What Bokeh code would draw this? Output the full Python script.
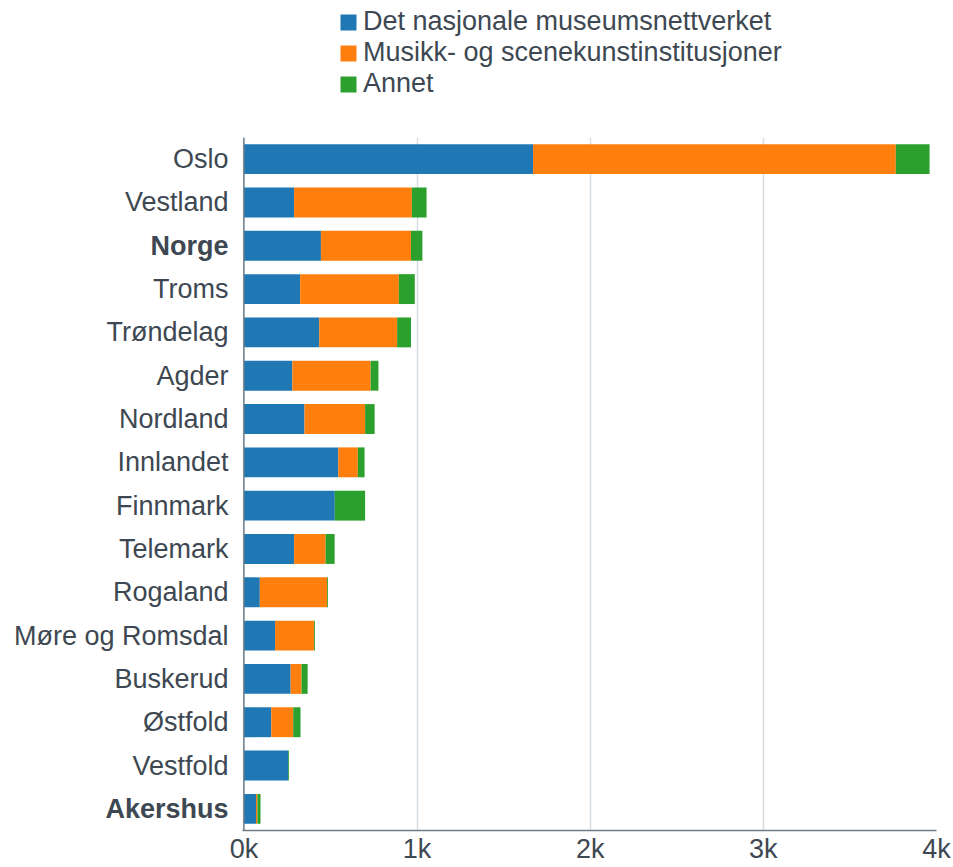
from bokeh.plotting import figure
from bokeh.layouts import row, column
from bokeh.core.properties import value
from bokeh.models import (ColumnDataSource, FactorRange, Range1d, FixedTicker, Legend,
                          LegendItem, Span)
from bokeh.embed import file_html
from bokeh.resources import INLINE

categories = ["Oslo", "Vestland", "Norge", "Troms", "Trøndelag", "Agder", "Nordland",
              "Innlandet", "Finnmark", "Telemark", "Rogaland", "Møre og Romsdal",
              "Buskerud", "Østfold", "Vestfold", "Akershus"]
museum = [1670, 290, 445, 325, 435, 280, 350, 545, 525, 290, 92, 180, 270, 158, 255, 70]
musikk = [2095, 680, 520, 570, 450, 452, 350, 113, 0, 182, 388, 225, 63, 127, 0, 8]
annet = [195, 85, 66, 92, 80, 45, 55, 39, 175, 52, 5, 5, 35, 42, 5, 18]
bold_categories = ["Norge", "Akershus"]

series_names = ["Det nasjonale museumsnettverket", "Musikk- og scenekunstinstitusjoner", "Annet"]
series_keys = ["museum", "musikk", "annet"]
colors = ["#1f77b4", "#ff7f0e", "#2ca02c"]

xticks = [0, 1000, 2000, 3000, 4000]
xtick_labels = ["0k", "1k", "2k", "3k", "4k"]

TEXT = "#3d4852"
AXIS = "#6f7e89"
FONT = "Liberation Sans"
FS = "27px"
W = 953
LEG_H = 122
H = 867 - LEG_H
TOP = 15
BOTTOM = 37
LABEL_W = 229

src = ColumnDataSource(dict(cat=categories, museum=museum, musikk=musikk, annet=annet))
y_range = FactorRange(factors=list(reversed(categories)), range_padding=0)

# ---- legend strip (top) ----
lf = figure(width=W, height=LEG_H, output_backend="svg", toolbar_location=None,
            x_range=Range1d(0, 1), y_range=Range1d(0, 1),
            x_axis_location=None, y_axis_location=None, min_border=0)
lf.outline_line_color = None
lf.grid.grid_line_color = None
nan = float("nan")
leg_renderers = [lf.hbar(y=[nan], right=[nan], height=1, color=c, line_color=None)
                 for c in colors]
legend = Legend(items=[LegendItem(label=n, renderers=[r], index=0)
                       for n, r in zip(series_names, leg_renderers)],
                location=(338, 23), orientation="vertical", glyph_width=20, glyph_height=20,
                label_text_font=FONT, label_text_font_size=FS, label_text_color=TEXT,
                label_standoff=5, spacing=0, padding=0, margin=0, border_line_color=None,
                background_fill_alpha=0, label_height=30)
lf.add_layout(legend, "center")

# ---- label column (left) ----
fl = figure(width=LABEL_W, height=H, output_backend="svg", toolbar_location=None,
            y_range=y_range, x_range=Range1d(0, 1), y_axis_location=None,
            x_axis_location=None, min_border_left=0, min_border_right=0,
            min_border_top=TOP, min_border_bottom=BOTTOM)
fl.outline_line_color = None
fl.grid.grid_line_color = None
lab_src = ColumnDataSource(dict(
    y=categories, x=[1] * len(categories), text=categories,
    style=["bold" if c in bold_categories else "normal" for c in categories]))
fl.text(x="x", y="y", text="text", source=lab_src, x_offset=-1,
        text_align="right", text_baseline="middle", text_font=value(FONT),
        text_font_size=value(FS), text_color=TEXT, text_font_style="style")

# ---- main chart ----
p = figure(width=W - LABEL_W, height=H, output_backend="svg", toolbar_location=None,
           y_range=y_range, x_range=Range1d(-8, 4000), y_axis_location=None,
           min_border_left=13, min_border_right=17, min_border_top=TOP,
           min_border_bottom=BOTTOM)
p.outline_line_color = None

p.hbar_stack(series_keys, y="cat", height=0.69, color=colors, source=src, line_color=None)

ax = p.xaxis[0]
ax.ticker = FixedTicker(ticks=xticks)
ax.major_label_overrides = {t: l for t, l in zip(xticks, xtick_labels)}
ax.major_label_text_font = FONT
ax.major_label_text_font_size = FS
ax.major_label_text_color = TEXT
ax.major_tick_line_color = None
ax.minor_tick_line_color = None
ax.major_label_standoff = -3
ax.axis_line_color = AXIS
ax.axis_line_width = 1.5

p.add_layout(Span(location=0, dimension="height", line_color=AXIS, line_width=1.5))

p.ygrid.grid_line_color = None
p.xgrid.grid_line_color = "#d5dce2"
p.xgrid.grid_line_width = 1.5

layout = column(lf, row(fl, p, spacing=0), spacing=0)
open("out.html", "w").write(file_html(layout, INLINE))
